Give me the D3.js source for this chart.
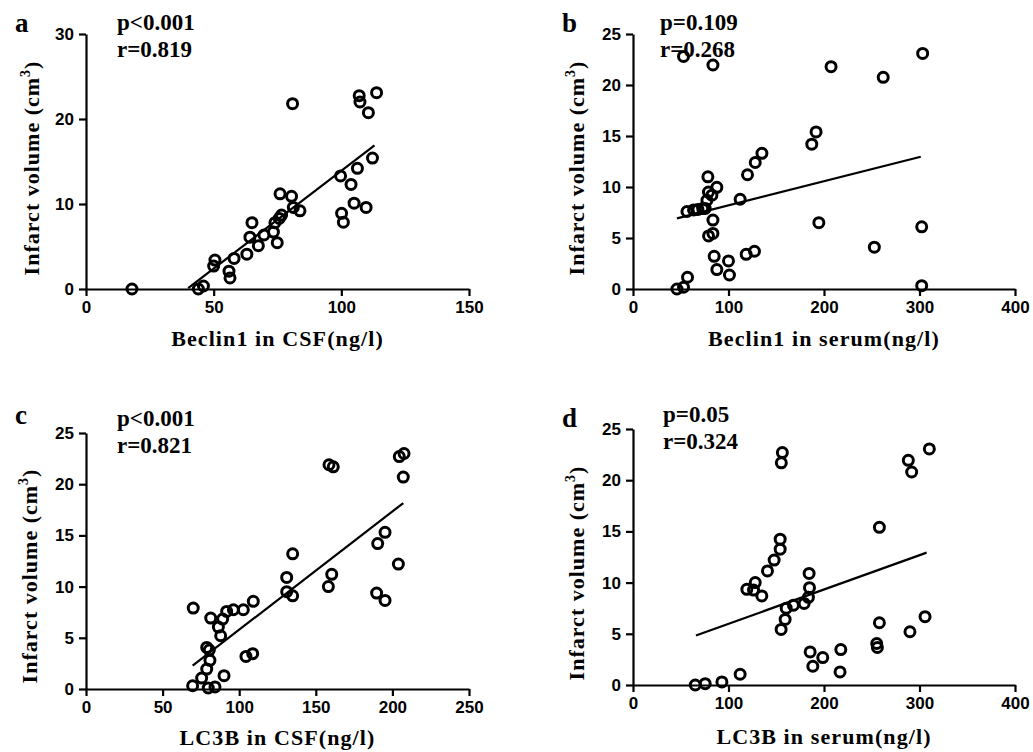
<!DOCTYPE html>
<html lang="en">
  <head>
    <meta charset="utf-8">
    <title>Infarct volume correlations</title>
    <script src="https://cdn.jsdelivr.net/npm/d3@7"></script>
    <style>
      body { margin: 0; background: #fff; }
    </style>
  </head>
  <body>
    <div id='main'></div>
  </body>

  <script type='text/javascript'>

      // --- data ---
      // a: Beclin1 in CSF vs infarct volume
      const aX = [18, 44, 46, 50, 50.5, 56, 56.4, 58, 63, 64.2, 65, 67.5, 69.7, 73.4, 74.9, 74, 75.7, 76.6,
                  76, 80.5, 81.2, 83.8, 80.9, 99.7, 100.1, 100.8, 103.8, 106.3, 105, 109.7, 107, 107.3, 110.6, 113.8, 112.2];
      const aY = [0, 0, 0.35, 2.7, 3.4, 2.1, 1.3, 3.6, 4.1, 6.1, 7.8, 5.1, 6.35, 6.7, 5.45, 7.8, 8.3, 8.7,
                  11.2, 10.9, 9.6, 9.2, 21.8, 13.3, 8.9, 7.85, 12.3, 14.2, 10.1, 9.6, 22.75, 22.0, 20.75, 23.1, 15.4];
      const aFit = [[40, 0.1], [113, 16.9]];

      // b: Beclin1 in serum
      const bX = [46, 52.9, 57.1, 52.9, 83.7, 56.5, 63.4, 68, 73, 75.6, 77.4, 79, 78.4, 82.6, 87.8, 83.7, 79.1, 83.7, 85,
                  87.8, 100, 101, 112.2, 119.9, 128, 135, 118.5, 127.2, 207.4, 262, 303.3, 191.7, 187.2, 194.6, 302.3, 252.7, 302.3];
      const bY = [0, 0.17, 1.15, 22.8, 21.96, 7.6, 7.75, 7.8, 7.9, 7.9, 8.7, 9.5, 11.0, 9.2, 9.97, 6.76, 5.2, 5.45, 3.2,
                  1.9, 2.75, 1.37, 8.8, 11.2, 12.4, 13.3, 3.4, 3.7, 21.8, 20.75, 23.1, 15.4, 14.2, 6.5, 6.1, 4.1, 0.33];
      const bFit = [[46, 6.93], [301.3, 12.97]];

      // c: LC3B in CSF
      const cX = [69.6, 75.5, 78.8, 80.9, 79.8, 84.2, 78.8, 80.5, 70, 81.4, 86.4, 89.2, 87.9, 91.8, 96.2, 102.7, 109.2, 90.1,
                  104.4, 108.8, 131, 131, 134.9, 134.9, 158.2, 160.4, 158.6, 161.4, 189.7, 195.2, 190.4, 195.2, 203.9, 204.5, 207.6, 207.1];
      const cY = [0.32, 1.07, 1.95, 2.8, 0.1, 0.2, 4.06, 3.8, 7.9, 6.93, 6.05, 6.83, 5.2, 7.58, 7.74, 7.74, 8.56, 1.3,
                  3.18, 3.45, 10.9, 9.5, 9.1, 13.2, 10.0, 11.2, 21.9, 21.7, 9.37, 8.65, 14.2, 15.3, 12.2, 22.7, 23.0, 20.7];
      const cFit = [[69.6, 2.28], [207.1, 18.16]];

      // d: LC3B in serum
      const dX = [65.2, 75.6, 93.1, 112.2, 119.2, 128, 126.2, 134.9, 140.8, 147.8, 154.1, 154.1, 156.4, 155.3, 155.1, 159.3,
                  160.4, 168, 179.2, 183.7, 184.8, 184.4, 185.5, 188.3, 198.7, 217.6, 216.8, 258, 258, 255.2, 255.9, 290, 305.8,
                  288.3, 291.8, 310.3];
      const dY = [0, 0.13, 0.3, 1.05, 9.34, 10.0, 9.27, 8.7, 11.14, 12.2, 14.24, 13.26, 22.7, 21.7, 5.43, 6.4,
                  7.5, 7.8, 7.97, 8.56, 9.5, 10.9, 3.23, 1.83, 2.68, 3.46, 1.28, 15.4, 6.08, 4.05, 3.66, 5.2, 6.67,
                  21.94, 20.8, 23.05];
      const dFit = [[65.9, 4.83], [307.5, 12.93]];

      // tick labels
      const xTicksCSF1 = [0, 50, 100, 150];
      const xTicksCSF2 = [0, 50, 100, 150, 200, 250];
      const xTicksSerum = [0, 100, 200, 300, 400];
      const yTicks30 = [0, 10, 20, 30];
      const yTicks25 = [0, 5, 10, 15, 20, 25];

      const letters = ['a', 'b', 'c', 'd'];
      const pTexts = ['p<0.001', 'p=0.109', 'p<0.001', 'p=0.05'];
      const rTexts = ['r=0.819', 'r=0.268', 'r=0.821', 'r=0.324'];
      const xTitles = ['Beclin1 in CSF(ng/l)', 'Beclin1 in serum(ng/l)', 'LC3B in CSF(ng/l)', 'LC3B in serum(ng/l)'];

      // --- layout ---
      const serif = '"Liberation Serif", "Times New Roman", serif';
      const sans = '"Liberation Sans", Arial, sans-serif';

      const panels = [
        {left: 86,  top: 34,  w: 383, h: 255, xs: aX, ys: aY, fit: aFit, xt: xTicksCSF1, yt: yTicks30,
         letterY: 32, pY: 30, statX: 117, yTitle: [32, 168], xTitleY: 346},
        {left: 633, top: 34,  w: 382, h: 255, xs: bX, ys: bY, fit: bFit, xt: xTicksSerum, yt: yTicks25,
         letterY: 32, pY: 30, statX: 660, yTitle: [577, 168], xTitleY: 346},
        {left: 86,  top: 433, w: 383, h: 256, xs: cX, ys: cY, fit: cFit, xt: xTicksCSF2, yt: yTicks25,
         letterY: 424, pY: 426, statX: 117, yTitle: [30, 576], xTitleY: 745},
        {left: 633, top: 429, w: 382, h: 256, xs: dX, ys: dY, fit: dFit, xt: xTicksSerum, yt: yTicks25,
         letterY: 427, pY: 422, statX: 663, yTitle: [577, 573], xTitleY: 744}
      ];

      let canvas = d3.select('#main').append('svg')
        .attr('width', 1033)
        .attr('height', 752)
        .style('background', '#fff');

      panels.forEach((p, i) => {
        const x = d3.scaleLinear().domain([0, d3.max(p.xt)]).range([p.left, p.left + p.w]);
        const y = d3.scaleLinear().domain([0, d3.max(p.yt)]).range([p.top + p.h, p.top]);

        // axes
        const gx = canvas.append('g')
          .attr('transform', `translate(0,${p.top + p.h})`)
          .call(d3.axisBottom(x).tickValues(p.xt).tickSizeInner(7).tickSizeOuter(0).tickPadding(5));
        const gy = canvas.append('g')
          .attr('transform', `translate(${p.left},0)`)
          .call(d3.axisLeft(y).tickValues(p.yt).tickSizeInner(7).tickSizeOuter(0).tickPadding(5));

        [gx, gy].forEach(g => {
          g.select('.domain').attr('stroke', '#000').attr('stroke-width', 2.2);
          g.selectAll('.tick line').attr('stroke', '#000').attr('stroke-width', 2.2);
          g.selectAll('.tick text')
            .attr('fill', '#000')
            .attr('font-family', sans)
            .attr('font-weight', 'bold')
            .attr('font-size', '17px');
        });

        // regression line
        canvas.append('line')
          .attr('x1', x(p.fit[0][0])).attr('y1', y(p.fit[0][1]))
          .attr('x2', x(p.fit[1][0])).attr('y2', y(p.fit[1][1]))
          .attr('stroke', '#000')
          .attr('stroke-width', 2.2);

        // open circles
        canvas.append('g').selectAll('circle')
          .data(p.xs.map((v, k) => [v, p.ys[k]]))
          .enter()
          .append('circle')
          .attr('cx', d => x(d[0]))
          .attr('cy', d => y(d[1]))
          .attr('r', 5)
          .attr('fill', 'none')
          .attr('stroke', '#000')
          .attr('stroke-width', 3);

        // panel letter
        canvas.append('text')
          .attr('x', p.left - 71)
          .attr('y', p.letterY)
          .text(letters[i])
          .attr('font-family', serif)
          .attr('font-weight', 'bold')
          .attr('font-size', '27px');

        // stats
        [pTexts[i], rTexts[i]].forEach((t, k) => {
          canvas.append('text')
            .attr('x', p.statX)
            .attr('y', p.pY + k * 27)
            .text(t)
            .attr('font-family', serif)
            .attr('font-weight', 'bold')
            .attr('font-size', '23px');
        });

        // x title
        canvas.append('text')
          .attr('x', p.left + p.w / 2)
          .attr('y', p.xTitleY)
          .attr('text-anchor', 'middle')
          .text(xTitles[i])
          .attr('font-family', serif)
          .attr('font-weight', 'bold')
          .attr('font-size', '22px')
          .attr('letter-spacing', '1.1px');

        // y title
        const yt = canvas.append('text')
          .attr('transform', `translate(${p.yTitle[0] + 7},${p.yTitle[1]}) rotate(-90)`)
          .attr('text-anchor', 'middle')
          .attr('font-family', serif)
          .attr('font-weight', 'bold')
          .attr('font-size', '22px')
          .attr('letter-spacing', '1px');
        yt.append('tspan').text('Infarct volume (cm');
        yt.append('tspan').text('3').attr('font-size', '14px').attr('dy', -9);
        yt.append('tspan').text(')').attr('dy', 9);
      });

  </script>
</html>
